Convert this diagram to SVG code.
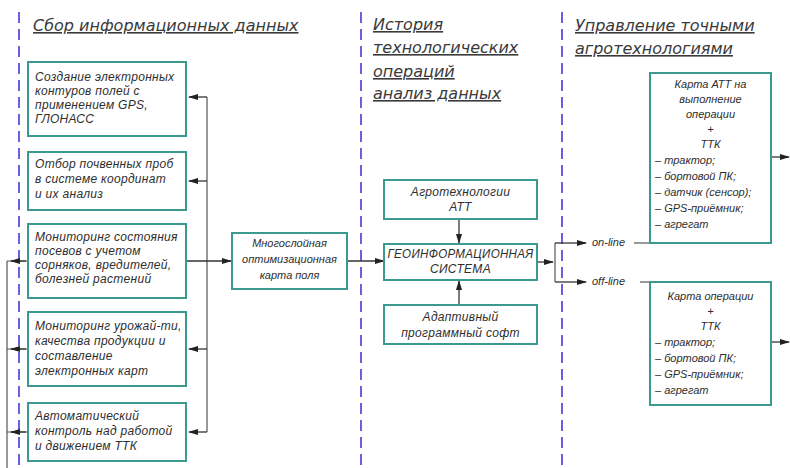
<svg xmlns="http://www.w3.org/2000/svg" width="790" height="468" viewBox="0 0 790 468">
  <style>
    .box { fill: #ffffff; stroke: #3a9a90; stroke-width: 2; }
    .hdr { font-family: "DejaVu Sans", "Liberation Sans", sans-serif; font-style: italic; font-size: 16px; fill: #3a3a3a; text-decoration: underline; }
    .t { font-family: "Liberation Sans", Arial, sans-serif; font-style: italic; font-size: 12px; letter-spacing: 0.3px; fill: #2e2e2e; }
    .m { font-family: "Liberation Sans", Arial, sans-serif; font-style: italic; font-size: 11px; fill: #2e2e2e; }
    .s { font-family: "Liberation Sans", Arial, sans-serif; font-style: italic; font-size: 11px; fill: #2e2e2e; }
    .c { text-anchor: middle; }
    .sep { stroke: #6f5fe0; stroke-width: 2; stroke-dasharray: 11 6; fill: none; }
    .ln { stroke: #555555; stroke-width: 1.2; fill: none; }
    .ar { stroke: #333333; stroke-width: 1.3; fill: none; marker-end: url(#arr); }
  </style>
  <defs>
    <marker id="arr" viewBox="0 0 10 6" refX="9" refY="3" markerWidth="10" markerHeight="6" markerUnits="userSpaceOnUse" orient="auto">
      <path d="M0,0 L10,3 L0,6 z" fill="#222222"/>
    </marker>
  </defs>
  <rect width="790" height="468" fill="#ffffff"/>

  <!-- column separators -->
  <g id="separators">
    <line class="sep" x1="19" y1="12" x2="19" y2="468"/>
    <line class="sep" x1="361" y1="12" x2="361" y2="468"/>
    <line class="sep" x1="562" y1="12" x2="562" y2="468"/>
  </g>

  <!-- column headings -->
  <g id="headings">
    <text class="hdr" x="33" y="31">Сбор информационных данных</text>
    <text class="hdr" x="373" y="30">История</text>
    <text class="hdr" x="373" y="53">технологических</text>
    <text class="hdr" x="373" y="77">операций</text>
    <text class="hdr" x="373" y="99">анализ данных</text>
    <text class="hdr" x="575" y="31">Управление точными</text>
    <text class="hdr" x="575" y="54">агротехнологиями</text>
  </g>

  <!-- connectors -->
  <g id="connectors">
    <!-- right bus of the data-collection column -->
    <path class="ln" d="M207,97 V432"/>
    <path class="ar" d="M207,97 H189"/>
    <path class="ar" d="M207,181 H189"/>
    <path class="ar" d="M207,349 H189"/>
    <path class="ar" d="M207,432 H189"/>
    <path class="ar" d="M187,261 H231"/>
    <!-- left bus -->
    <path class="ln" d="M7,261 V468"/>
    <path class="ln" d="M7,261 H27 M7,349 H27 M7,432 H27"/>
    <path class="ar" d="M26,261 H11"/>
    <path class="ar" d="M26,349 H11"/>
    <path class="ar" d="M26,432 H11"/>
    <!-- map to GIS -->
    <path class="ar" d="M347,261 H384"/>
    <!-- into GIS -->
    <path class="ar" d="M459,219 V243"/>
    <path class="ar" d="M459,305 V281"/>
    <!-- GIS to on-line / off-line -->
    <path class="ar" d="M538,262 H553"/>
    <path class="ln" d="M555,243 V282"/>
    <path class="ar" d="M555,243 H586"/>
    <path class="ar" d="M555,282 H586"/>
    <path class="ln" d="M634,243 H650"/>
    <path class="ln" d="M640,282 H650"/>
    <!-- outputs -->
    <path class="ar" d="M771,157 H789"/>
    <path class="ar" d="M771,342 H789"/>
  </g>

  <!-- data collection column -->
  <g id="contours">
    <rect class="box" x="28" y="62" width="158" height="74"/>
    <text class="t" x="35" y="81">Создание электронных</text>
    <text class="t" x="35" y="95">контуров полей с</text>
    <text class="t" x="35" y="109">применением GPS,</text>
    <text class="t" x="35" y="123">ГЛОНАСС</text>
  </g>
  <g id="soil">
    <rect class="box" x="28" y="152" width="158" height="58"/>
    <text class="t" x="35" y="168">Отбор почвенных проб</text>
    <text class="t" x="35" y="183">в системе координат</text>
    <text class="t" x="35" y="198">и их анализ</text>
  </g>
  <g id="crops">
    <rect class="box" x="28" y="224" width="158" height="74"/>
    <text class="t" x="35" y="241">Мониторинг состояния</text>
    <text class="t" x="35" y="255">посевов с учетом</text>
    <text class="t" x="35" y="269">сорняков, вредителей,</text>
    <text class="t" x="35" y="283">болезней растений</text>
  </g>
  <g id="yield">
    <rect class="box" x="28" y="312" width="158" height="74"/>
    <text class="t" x="35" y="330">Мониторинг урожай-ти,</text>
    <text class="t" x="35" y="345">качества продукции и</text>
    <text class="t" x="35" y="360">составление</text>
    <text class="t" x="35" y="375">электронных карт</text>
  </g>
  <g id="control">
    <rect class="box" x="28" y="403" width="158" height="58"/>
    <text class="t" x="35" y="420">Автоматический</text>
    <text class="t" x="35" y="435">контроль над работой</text>
    <text class="t" x="35" y="450">и движением ТТК</text>
  </g>

  <!-- multilayer field map -->
  <g id="fieldmap">
    <rect class="box" x="232" y="233" width="115" height="56"/>
    <text class="m c" x="289.5" y="247">Многослойная</text>
    <text class="m c" x="289.5" y="263">оптимизационная</text>
    <text class="m c" x="289.5" y="279">карта поля</text>
  </g>

  <!-- history / analysis column -->
  <g id="att">
    <rect class="box" x="384" y="180" width="153" height="39"/>
    <text class="t c" x="460.5" y="196">Агротехнологии</text>
    <text class="t c" x="460.5" y="211">АТТ</text>
  </g>
  <g id="gis">
    <rect class="box" x="384" y="244" width="153" height="36"/>
    <text class="t c" x="460.5" y="258" textLength="146" lengthAdjust="spacingAndGlyphs">ГЕОИНФОРМАЦИОННАЯ</text>
    <text class="t c" x="460.5" y="273">СИСТЕМА</text>
  </g>
  <g id="software">
    <rect class="box" x="384" y="305" width="153" height="39"/>
    <text class="t c" x="460.5" y="321">Адаптивный</text>
    <text class="t c" x="460.5" y="337">программный софт</text>
  </g>

  <!-- mode labels -->
  <g id="modes">
    <text class="s" x="592" y="246">on-line</text>
    <text class="s" x="592" y="285">off-line</text>
  </g>

  <!-- precision agrotechnology control column -->
  <g id="online-card">
    <rect class="box" x="650" y="73" width="121" height="170"/>
    <text class="s c" x="710.5" y="88">Карта АТТ на</text>
    <text class="s c" x="710.5" y="103">выполнение</text>
    <text class="s c" x="710.5" y="118">операции</text>
    <text class="s c" x="710.5" y="133">+</text>
    <text class="s c" x="710.5" y="148">ТТК</text>
    <text class="s" x="655" y="164">– трактор;</text>
    <text class="s" x="655" y="180">– бортовой ПК;</text>
    <text class="s" x="655" y="196">– датчик (сенсор);</text>
    <text class="s" x="655" y="212">– GPS-приёмник;</text>
    <text class="s" x="655" y="228">– агрегат</text>
  </g>
  <g id="offline-card">
    <rect class="box" x="650" y="282" width="121" height="123"/>
    <text class="s c" x="710.5" y="300">Карта операции</text>
    <text class="s c" x="710.5" y="315">+</text>
    <text class="s c" x="710.5" y="330">ТТК</text>
    <text class="s" x="655" y="346">– трактор;</text>
    <text class="s" x="655" y="362">– бортовой ПК;</text>
    <text class="s" x="655" y="378">– GPS-приёмник;</text>
    <text class="s" x="655" y="394">– агрегат</text>
  </g>
</svg>
